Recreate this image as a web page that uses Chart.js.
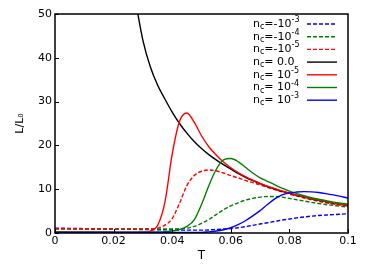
<!DOCTYPE html>
<html>
<head>
<meta charset="utf-8">
<script src="https://cdn.jsdelivr.net/npm/chart.js@4.4.1/dist/chart.umd.min.js"></script>
<style>
  html, body { margin: 0; padding: 0; background: #fff; }
</style>
</head>
<body>
<canvas id="chart" width="366" height="274"></canvas>
<script>
// temperature grid shared by all curves
const T = [
  0, 0.0025, 0.005, 0.0075, 0.01, 0.0125, 0.015, 0.0175, 0.02, 0.0225,
  0.025, 0.0275, 0.03, 0.0325, 0.035, 0.0375, 0.04, 0.0425, 0.045, 0.0475,
  0.05, 0.0525, 0.055, 0.0575, 0.06, 0.0625, 0.065, 0.0675, 0.07, 0.0725,
  0.075, 0.0775, 0.08, 0.0825, 0.085, 0.0875, 0.09, 0.0925, 0.095, 0.0975, 0.1,
];

// L/L0, one array per n_c
const ncMinus3 = [
  1.1, 1.08, 1.05, 1.03, 1.0, 0.98, 0.95, 0.93, 0.9, 0.88,
  0.85, 0.83, 0.8, 0.78, 0.75, 0.73, 0.7, 0.68, 0.66, 0.65,
  0.65, 0.7, 0.8, 0.9, 1.0, 1.2, 1.45, 1.75, 2.05, 2.35,
  2.65, 2.95, 3.2, 3.45, 3.65, 3.85, 4.0, 4.1, 4.2, 4.3, 4.4,
];
const ncMinus4 = [
  0.95, 0.95, 0.94, 0.94, 0.93, 0.93, 0.92, 0.92, 0.91, 0.91,
  0.9, 0.9, 0.9, 0.9, 0.9, 0.9, 0.92, 0.97, 1.1, 1.5,
  2.2, 3.1, 4.2, 5.3, 6.2, 6.9, 7.5, 7.9, 8.2, 8.35,
  8.35, 8.2, 7.9, 7.6, 7.3, 7.0, 6.75, 6.5, 6.3, 6.1, 5.95,
];
const ncMinus5 = [
  0.92, 0.92, 0.91, 0.91, 0.9, 0.9, 0.9, 0.89, 0.89, 0.89,
  0.88, 0.88, 0.9, 0.95, 1.1, 1.8, 3.3, 6.8, 10.8, 13.1,
  14.1, 14.4, 14.2, 13.7, 13.1, 12.6, 12.0, 11.5, 11.0, 10.4,
  9.9, 9.4, 8.9, 8.45, 8.0, 7.6, 7.25, 6.9, 6.6, 6.35, 6.1,
];
const ncZero = [
  null, null, null, null, null, null, null, null, null, 80,
  63, 53, 44, 38, 33.8, 30.6, 27.6, 25.0, 22.8, 20.9,
  19.3, 17.9, 16.7, 15.6, 14.6, 13.6, 12.7, 11.95, 11.25, 10.6,
  10.05, 9.5, 9.05, 8.6, 8.2, 7.8, 7.45, 7.1, 6.8, 6.55, 6.3,
];
const ncPlus5 = [
  0.25, 0.25, 0.24, 0.24, 0.23, 0.23, 0.22, 0.22, 0.21, 0.21,
  0.2, 0.2, 0.22, 0.45, 1.7, 7.0, 18.0, 25.5, 27.4, 25.3,
  22.2, 19.7, 17.8, 16.2, 14.9, 13.8, 12.85, 12.05, 11.35, 10.7,
  10.15, 9.6, 9.1, 8.65, 8.25, 7.85, 7.5, 7.15, 6.85, 6.55, 6.3,
];
const ncPlus4 = [
  0.22, 0.22, 0.21, 0.21, 0.2, 0.2, 0.2, 0.2, 0.2, 0.2,
  0.2, 0.2, 0.2, 0.21, 0.23, 0.3, 0.45, 0.8, 1.5, 3.0,
  6.5, 10.8, 14.5, 16.7, 17.0, 16.3, 15.0, 13.7, 12.6, 11.8,
  11.0, 10.25, 9.55, 9.0, 8.5, 8.05, 7.7, 7.35, 7.05, 6.8, 6.6,
];
const ncPlus3 = [
  0.12, 0.12, 0.12, 0.12, 0.12, 0.12, 0.12, 0.12, 0.12, 0.12,
  0.12, 0.12, 0.12, 0.12, 0.12, 0.12, 0.12, 0.12, 0.12, 0.12,
  0.12, 0.25, 0.45, 0.75, 1.2, 1.9, 2.8, 3.9, 5.1, 6.5,
  7.8, 8.7, 9.15, 9.35, 9.45, 9.4, 9.25, 9.0, 8.7, 8.35, 8.0,
];

// legend text after "n_c"; "^" marks the exponent
const ncLabels = ["=-10^-3", "=-10^-4", "=-10^-5", "= 0.0", "= 10^-5", "= 10^-4", "= 10^-3"];
const seriesValues = [ncMinus3, ncMinus4, ncMinus5, ncZero, ncPlus5, ncPlus4, ncPlus3];
const seriesColors = ["#0000ff", "#008000", "#ff0000", "#000000", "#ff0000", "#008000", "#0000ff"];
const seriesDashed = [true, true, true, false, false, false, false];

const xTicks = [0, 0.02, 0.04, 0.06, 0.08, 0.1];
const xTickLabels = ["0", "0.02", "0.04", "0.06", "0.08", "0.1"];
const yTicks = [0, 10, 20, 30, 40, 50];
const yTickLabels = ["0", "10", "20", "30", "40", "50"];

const FONT = '"DejaVu Sans", sans-serif';
const dash = [4, 2];

const frameAndTicks = {
  id: "frameAndTicks",
  afterDraw(chart) {
    const { ctx, chartArea: a, scales } = chart;
    ctx.save();
    ctx.strokeStyle = "#000";
    ctx.lineWidth = 1;
    ctx.beginPath();
    for (const v of xTicks) {
      const px = Math.round(scales.x.getPixelForValue(v)) + 0.5;
      ctx.moveTo(px, a.bottom);
      ctx.lineTo(px, a.bottom - 4);
    }
    for (const v of yTicks) {
      const py = Math.round(scales.y.getPixelForValue(v)) + 0.5;
      ctx.moveTo(a.left, py);
      ctx.lineTo(a.left + 4, py);
    }
    ctx.stroke();
    ctx.lineWidth = 1.5;
    ctx.strokeRect(a.left, a.top, a.right - a.left, a.bottom - a.top);
    ctx.restore();
  },
};

const ncLegend = {
  id: "ncLegend",
  afterDraw(chart) {
    const { ctx, chartArea: a } = chart;
    ctx.save();
    ctx.textBaseline = "middle";
    ctx.fillStyle = "#000";
    chart.data.datasets.forEach((ds, i) => {
      const y = a.top + 10 + i * 12.7;
      let x = a.right - 95;
      const [base, exp] = ncLabels[i].split("^");
      ctx.font = `11px ${FONT}`;
      ctx.fillText("n", x, y);
      x += ctx.measureText("n").width;
      ctx.font = `8px ${FONT}`;
      ctx.fillText("c", x, y + 3);
      x += ctx.measureText("c").width;
      ctx.font = `11px ${FONT}`;
      ctx.fillText(base, x, y);
      x += ctx.measureText(base).width;
      if (exp) {
        ctx.font = `8px ${FONT}`;
        ctx.fillText(exp, x, y - 4);
      }
      ctx.beginPath();
      ctx.strokeStyle = ds.borderColor;
      ctx.lineWidth = ds.borderWidth;
      ctx.setLineDash(ds.borderDash || []);
      ctx.moveTo(a.right - 41, y);
      ctx.lineTo(a.right - 11, y);
      ctx.stroke();
      ctx.setLineDash([]);
    });
    ctx.restore();
  },
};

new Chart(document.getElementById("chart"), {
  type: "line",
  data: {
    datasets: seriesValues.map((vals, i) => ({
      label: "n_c" + ncLabels[i],
      data: T.map((t, k) => ({ x: t, y: vals[k] })),
      borderColor: seriesColors[i],
      borderWidth: 1.4,
      borderDash: seriesDashed[i] ? dash : [],
      pointRadius: 0,
      fill: false,
      cubicInterpolationMode: "monotone",
      order: seriesValues.length - i,
    })),
  },
  options: {
    responsive: false,
    animation: false,
    layout: { padding: { left: 0, top: 14, right: 18, bottom: 0 } },
    plugins: { legend: { display: false }, tooltip: { enabled: false } },
    scales: {
      x: {
        type: "linear",
        min: 0,
        max: 0.1,
        grid: { display: false, drawTicks: false },
        border: { display: false },
        afterBuildTicks: (s) => { s.ticks = xTicks.map((v) => ({ value: v })); },
        afterFit: (s) => { s.height = 41; },
        ticks: {
          color: "#000",
          font: { family: FONT, size: 11 },
          padding: 2,
          maxRotation: 0,
          autoSkip: false,
          callback: (v) => xTickLabels[xTicks.indexOf(v)],
        },
        title: {
          display: true,
          text: "T",
          color: "#000",
          font: { family: FONT, size: 12 },
          padding: { top: 0, bottom: 11 },
        },
      },
      y: {
        min: 0,
        max: 50,
        grid: { display: false, drawTicks: false },
        border: { display: false },
        afterBuildTicks: (s) => { s.ticks = yTicks.map((v) => ({ value: v })); },
        afterFit: (s) => { s.width = 55; },
        ticks: {
          color: "#000",
          font: { family: FONT, size: 11 },
          padding: 3,
          callback: (v) => yTickLabels[yTicks.indexOf(v)],
        },
        title: {
          display: true,
          text: "L/L₀",
          color: "#000",
          font: { family: FONT, size: 11 },
          padding: { top: 14, bottom: 0 },
        },
      },
    },
  },
  plugins: [frameAndTicks, ncLegend],
});
</script>
</body>
</html>
